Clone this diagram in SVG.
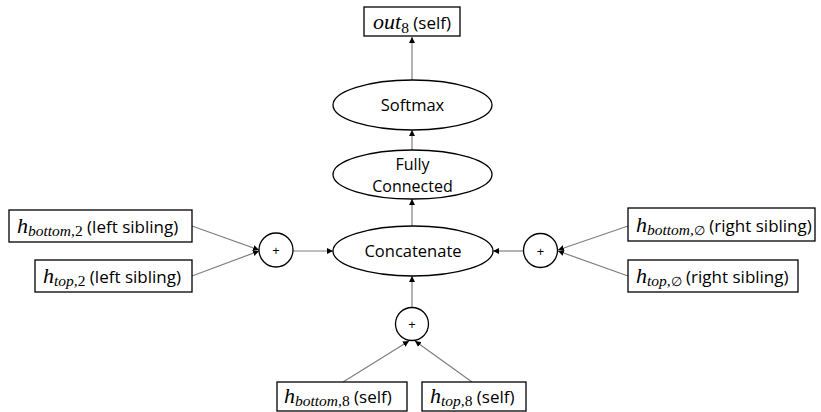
<svg xmlns="http://www.w3.org/2000/svg" width="821" height="412" viewBox="0 0 821 412">
  <defs>
    <marker id="arrow" viewBox="0 0 10 10" refX="10" refY="5" markerWidth="6" markerHeight="6" markerUnits="userSpaceOnUse" orient="auto">
      <path d="M0,0 L10,5 L0,10 z" fill="#000"/>
    </marker>
    <style>
      .box { fill: #fff; stroke: #000; stroke-width: 1.3; }
      .op { fill: #fff; stroke: #000; stroke-width: 1.3; }
      .lbl { font-family: "Open Sans", "Liberation Sans", sans-serif; font-size: 17px; fill: #000; }
      .oplbl { font-size: 16.5px; text-anchor: middle; }
      .two { font-size: 16px; }
      .math { font-family: "Liberation Serif", "DejaVu Serif", serif; font-style: italic; font-size: 22px; }
      .sub { font-family: "Liberation Serif", "DejaVu Serif", serif; font-style: italic; font-size: 15.5px; }
      .subn { font-family: "Liberation Serif", "DejaVu Serif", serif; font-style: normal; font-size: 15.5px; }
      .empty { font-size: 13px; }
      .edge { stroke: #7f7f7f; stroke-width: 1.2; fill: none; marker-end: url(#arrow); }
      .plus { font-size: 13px; text-anchor: middle; }
    </style>
  </defs>

  <g id="connectors">
    <line class="edge" x1="412" y1="80" x2="412" y2="37"/>
    <line class="edge" x1="412" y1="150" x2="412" y2="130"/>
    <line class="edge" x1="412" y1="226" x2="412" y2="199"/>
    <line class="edge" x1="412" y1="307" x2="412" y2="276"/>
    <line class="edge" x1="293" y1="251" x2="333" y2="251"/>
    <line class="edge" x1="523" y1="251" x2="493" y2="251"/>
    <line class="edge" x1="192" y1="226" x2="259" y2="250"/>
    <line class="edge" x1="192" y1="276" x2="259" y2="251"/>
    <line class="edge" x1="628" y1="226" x2="558" y2="250"/>
    <line class="edge" x1="628" y1="276" x2="558" y2="251"/>
    <line class="edge" x1="343" y1="382" x2="409" y2="341"/>
    <line class="edge" x1="472" y1="382" x2="415" y2="341"/>
  </g>

  <g id="out-self">
    <rect class="box" x="364" y="7" width="96" height="29"/>
    <text class="lbl" x="373" y="29"><tspan class="math">out</tspan><tspan class="subn" dy="4">8</tspan><tspan dy="-4"> (self)</tspan></text>
  </g>

  <g id="softmax">
    <ellipse class="op" cx="412.5" cy="105" rx="79.5" ry="25"/>
    <text class="lbl oplbl" x="412.5" y="111">Softmax</text>
  </g>

  <g id="fully-connected">
    <ellipse class="op" cx="412.5" cy="174.5" rx="79.5" ry="24.5"/>
    <text class="lbl oplbl two" x="412.5" y="170">Fully</text>
    <text class="lbl oplbl two" x="412.5" y="192">Connected</text>
  </g>

  <g id="concatenate">
    <ellipse class="op" cx="413" cy="251" rx="80" ry="25"/>
    <text class="lbl oplbl" x="413" y="257">Concatenate</text>
  </g>

  <g id="sum-left">
    <circle class="op" cx="276" cy="250" r="17"/>
    <text class="lbl plus" x="276" y="255">+</text>
  </g>

  <g id="sum-right">
    <circle class="op" cx="540.5" cy="250.5" r="17"/>
    <text class="lbl plus" x="540.5" y="255.5">+</text>
  </g>

  <g id="sum-self">
    <circle class="op" cx="412" cy="324" r="16.5"/>
    <text class="lbl plus" x="412" y="329">+</text>
  </g>

  <g id="h-bottom-left">
    <rect class="box" x="9" y="210" width="183" height="32"/>
    <text class="lbl" x="17" y="233"><tspan class="math">h</tspan><tspan class="sub" dy="3">bottom,</tspan><tspan class="subn">2</tspan><tspan dy="-3"> (left sibling)</tspan></text>
  </g>

  <g id="h-top-left">
    <rect class="box" x="35" y="260" width="157" height="32"/>
    <text class="lbl" x="43" y="283"><tspan class="math">h</tspan><tspan class="sub" dy="3">top,</tspan><tspan class="subn">2</tspan><tspan dy="-3"> (left sibling)</tspan></text>
  </g>

  <g id="h-bottom-right">
    <rect class="box" x="628" y="208" width="187" height="33"/>
    <text class="lbl" x="636" y="232"><tspan class="math">h</tspan><tspan class="sub" dy="3">bottom,</tspan><tspan class="subn empty">∅</tspan><tspan dy="-3"> (right sibling)</tspan></text>
  </g>

  <g id="h-top-right">
    <rect class="box" x="628" y="260" width="170" height="32"/>
    <text class="lbl" x="636" y="283"><tspan class="math">h</tspan><tspan class="sub" dy="3">top,</tspan><tspan class="subn empty">∅</tspan><tspan dy="-3"> (right sibling)</tspan></text>
  </g>

  <g id="h-bottom-self">
    <rect class="box" x="277" y="382" width="130" height="29"/>
    <text class="lbl" x="284" y="403"><tspan class="math">h</tspan><tspan class="sub" dy="3">bottom,</tspan><tspan class="subn">8</tspan><tspan dy="-3"> (self)</tspan></text>
  </g>

  <g id="h-top-self">
    <rect class="box" x="422" y="382" width="104" height="29"/>
    <text class="lbl" x="430" y="403"><tspan class="math">h</tspan><tspan class="sub" dy="3">top,</tspan><tspan class="subn">8</tspan><tspan dy="-3"> (self)</tspan></text>
  </g>
</svg>
